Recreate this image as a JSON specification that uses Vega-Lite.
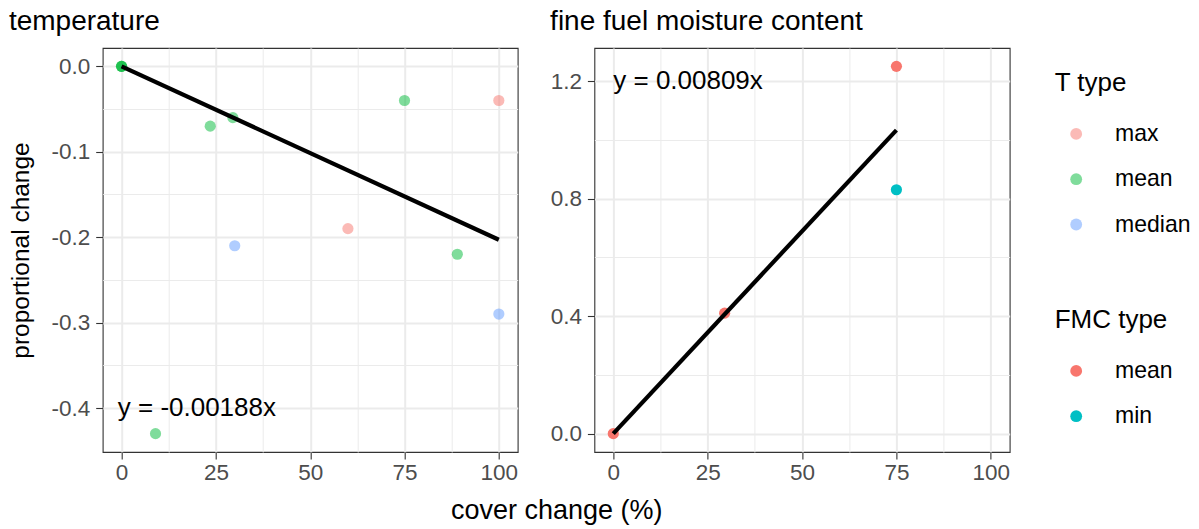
{
  "$schema": "https://vega.github.io/schema/vega-lite/v6.json",
  "padding": {"left": 7.7, "top": 7, "right": 5, "bottom": 5},
  "config": {
    "font": "Liberation Sans",
    "view": {"stroke": "#333333", "strokeWidth": 1.1},
    "axis": {
      "domain": false,
      "tickColor": "#333333",
      "tickSize": 7,
      "tickWidth": 1.1,
      "labelColor": "#4D4D4D",
      "labelFontSize": 22.5,
      "labelFont": "Liberation Sans",
      "labelOverlap": false,
      "labelFlush": false,
      "labelBound": false,
      "titleFont": "Liberation Sans",
      "titleFontSize": 27,
      "titleFontWeight": "normal",
      "titleColor": "black",
      "gridColor": "#EBEBEB"
    },
    "axisX": {"labelPadding": 3, "titlePadding": 13.5},
    "axisY": {"labelPadding": 6, "titlePadding": 17, "titleFontSize": 24.5},
    "title": {"fontSize": 28, "fontWeight": "normal", "anchor": "start", "color": "black", "font": "Liberation Sans", "baseline": "alphabetic", "offset": 11.7},
    "legend": {
      "titleFont": "Liberation Sans",
      "titleFontSize": 26,
      "titleFontWeight": "normal",
      "titleColor": "black",
      "labelFont": "Liberation Sans",
      "labelFontSize": 23,
      "labelColor": "black",
      "symbolType": "circle",
      "symbolSize": 140,
      "symbolStrokeWidth": 0,
      "symbolOffset": 10,
      "labelOffset": 27.4,
      "rowPadding": 21.3,
      "titlePadding": 26.2,
      "padding": 0
    }
  },
  "datasets": {
    "temp": [
      {"cover": 0, "change": 0, "T type": "mean"},
      {"cover": 0, "change": 0, "T type": "mean"},
      {"cover": 0, "change": 0, "T type": "mean"},
      {"cover": 9, "change": -0.43, "T type": "mean"},
      {"cover": 23.5, "change": -0.07, "T type": "mean"},
      {"cover": 29.5, "change": -0.06, "T type": "mean"},
      {"cover": 75, "change": -0.04, "T type": "mean"},
      {"cover": 89, "change": -0.22, "T type": "mean"},
      {"cover": 60, "change": -0.19, "T type": "max"},
      {"cover": 100, "change": -0.04, "T type": "max"},
      {"cover": 30, "change": -0.21, "T type": "median"},
      {"cover": 100, "change": -0.29, "T type": "median"}
    ],
    "fmc": [
      {"cover": 0, "change": 0, "FMC type": "mean"},
      {"cover": 29.5, "change": 0.41, "FMC type": "mean"},
      {"cover": 75, "change": 1.25, "FMC type": "mean"},
      {"cover": 75, "change": 0.83, "FMC type": "min"}
    ],
    "tfit": [
      {"cover": 0, "change": 0},
      {"cover": 100, "change": -0.203}
    ],
    "ffit": [
      {"cover": 0, "change": 0},
      {"cover": 75, "change": 1.033}
    ],
    "tlab": [{"cover": -1, "change": -0.4, "label": "y = -0.00188x"}],
    "flab": [{"cover": 0, "change": 1.2, "label": "y = 0.00809x"}]
  },
  "bounds": "flush",
  "spacing": 76.7,
  "hconcat": [
    {
      "title": {"text": "temperature"},
      "width": 415,
      "height": 404,
      "layer": [
        {
          "data": {"name": "temp"},
          "mark": {"type": "point", "filled": true, "size": 125, "opacity": 0.5},
          "encoding": {
            "x": {
              "field": "cover", "type": "quantitative",
              "scale": {"domain": [-5, 105], "nice": false, "zero": false},
              "axis": {
                "values": [0, 12.5, 25, 37.5, 50, 62.5, 75, 87.5, 100],
                "labelExpr": "datum.value % 25 == 0 ? format(datum.value, 'd') : ''",
                "gridWidth": {"condition": {"test": "datum.value % 25 != 0", "value": 1}, "value": 2},
                "tickOpacity": {"condition": {"test": "datum.value % 25 != 0", "value": 0}, "value": 1},
                "title": "cover change (%)",
                "titleX": 453.5,
                "titleAlign": "center"
              }
            },
            "y": {
              "field": "change", "type": "quantitative",
              "scale": {"domain": [-0.4515, 0.0215], "nice": false, "zero": false},
              "axis": {
                "values": [-0.4, -0.35, -0.3, -0.25, -0.2, -0.15, -0.1, -0.05, 0],
                "labelExpr": "abs(datum.value*10 - round(datum.value*10)) > 0.01 ? '' : replace(format(datum.value, '.1f'), '\u2212', '-')",
                "gridWidth": {"condition": {"test": "abs(datum.value*10 - round(datum.value*10)) > 0.01", "value": 1}, "value": 2},
                "tickOpacity": {"condition": {"test": "abs(datum.value*10 - round(datum.value*10)) > 0.01", "value": 0}, "value": 1},
                "title": "proportional change"
              }
            },
            "color": {
              "field": "T type", "type": "nominal",
              "scale": {"domain": ["max", "mean", "median"], "range": ["#F8766D", "#00BA38", "#619CFF"]},
              "legend": {"orient": "none", "legendX": 952, "legendY": 22.2, "symbolOpacity": 0.5}
            }
          }
        },
        {
          "data": {"name": "tfit"},
          "mark": {"type": "line", "color": "black", "strokeWidth": 4.2, "strokeCap": "butt"},
          "encoding": {
            "x": {"field": "cover", "type": "quantitative"},
            "y": {"field": "change", "type": "quantitative"}
          }
        },
        {
          "data": {"name": "tlab"},
          "mark": {"type": "text", "align": "left", "baseline": "middle", "fontSize": 26, "color": "black", "font": "Liberation Sans"},
          "encoding": {
            "x": {"field": "cover", "type": "quantitative"},
            "y": {"field": "change", "type": "quantitative"},
            "text": {"field": "label"}
          }
        }
      ]
    },
    {
      "title": {"text": "fine fuel moisture content"},
      "width": 415.3,
      "height": 404,
      "layer": [
        {
          "data": {"name": "fmc"},
          "mark": {"type": "point", "filled": true, "size": 125, "opacity": 1},
          "encoding": {
            "x": {
              "field": "cover", "type": "quantitative",
              "scale": {"domain": [-5, 105], "nice": false, "zero": false},
              "axis": {
                "values": [0, 12.5, 25, 37.5, 50, 62.5, 75, 87.5, 100],
                "labelExpr": "datum.value % 25 == 0 ? format(datum.value, 'd') : ''",
                "gridWidth": {"condition": {"test": "datum.value % 25 != 0", "value": 1}, "value": 2},
                "tickOpacity": {"condition": {"test": "datum.value % 25 != 0", "value": 0}, "value": 1},
                "title": null
              }
            },
            "y": {
              "field": "change", "type": "quantitative",
              "scale": {"domain": [-0.0625, 1.3125], "nice": false, "zero": false},
              "axis": {
                "values": [0, 0.2, 0.4, 0.6, 0.8, 1.0, 1.2],
                "labelExpr": "abs(datum.value/0.4 - round(datum.value/0.4)) > 0.01 ? '' : format(datum.value, '.1f')",
                "gridWidth": {"condition": {"test": "abs(datum.value/0.4 - round(datum.value/0.4)) > 0.01", "value": 1}, "value": 2},
                "tickOpacity": {"condition": {"test": "abs(datum.value/0.4 - round(datum.value/0.4)) > 0.01", "value": 0}, "value": 1},
                "title": null
              }
            },
            "fill": {
              "field": "FMC type", "type": "nominal",
              "scale": {"domain": ["mean", "min"], "range": ["#F8766D", "#00BFC4"]},
              "legend": {"orient": "none", "legendX": 952, "legendY": 259.2}
            }
          }
        },
        {
          "data": {"name": "ffit"},
          "mark": {"type": "line", "color": "black", "strokeWidth": 4.2, "strokeCap": "butt"},
          "encoding": {
            "x": {"field": "cover", "type": "quantitative"},
            "y": {"field": "change", "type": "quantitative"}
          }
        },
        {
          "data": {"name": "flab"},
          "mark": {"type": "text", "align": "left", "baseline": "middle", "fontSize": 26, "color": "black", "font": "Liberation Sans"},
          "encoding": {
            "x": {"field": "cover", "type": "quantitative"},
            "y": {"field": "change", "type": "quantitative"},
            "text": {"field": "label"}
          }
        }
      ]
    }
  ]
}
